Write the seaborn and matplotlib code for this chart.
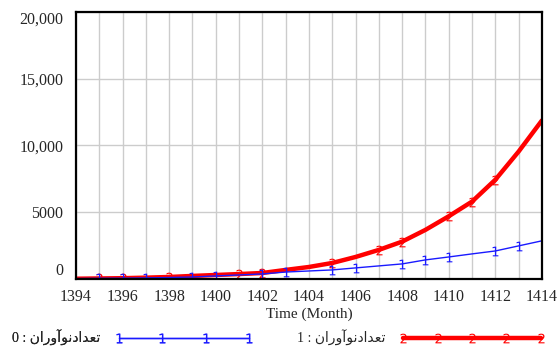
import numpy as np
import pandas as pd
import matplotlib
matplotlib.use('Agg')
import matplotlib.pyplot as plt
import seaborn as sns

# dados
meses = list(range(1394, 1415))
serie0 = [30, 50, 60, 80, 110, 150, 230, 300, 380, 520, 600, 680, 830, 980,
          1130, 1430, 1650, 1880, 2100, 2480, 2860]
serie1 = [20, 40, 60, 100, 150, 230, 300, 370, 450, 680, 900, 1200, 1650, 2180,
          2800, 3680, 4700, 5800, 7440, 9550, 11880]
# posições dos marcadores numéricos (índices)
marcas0 = [1, 2, 3, 5, 6, 8, 9, 11, 12, 14, 15, 16, 18, 19]
marcas1 = [1, 2, 4, 7, 8, 11, 13, 14, 16, 17, 18]

y_ticks = [0, 5000, 10000, 15000, 20000]
y_labels = ['0', '5000', '10,000', '15,000', '20,000']
x_ticks = list(range(1394, 1415, 2))

# nome da variável já em formas de apresentação, ordem visual
nome = '\uFEE5\uFE8D\uFEAD\uFEED\uFE81\uFEEE\uFEE7\uFEA9\uFE8D\uFEAA\uFECC\uFE97'
rotulo0 = '0 : ' + nome
rotulo1 = '1 : ' + nome

df = pd.DataFrame({'Mes': meses, 'S0': serie0, 'S1': serie1})

sns.set_style('whitegrid', {'grid.color': '#cccccc', 'axes.edgecolor': 'black'})
plt.rcParams['font.family'] = ['Liberation Serif', 'DejaVu Sans']

fig = plt.figure(figsize=(5.57, 3.47), dpi=100)
ax = fig.add_axes([0.1364, 0.196, 0.8366, 0.7694])

sns.lineplot(data=df, x='Mes', y='S1', ax=ax, color='#ff0000', linewidth=3.2,
             marker=r'$\mathrm{2}$', markevery=marcas1, markersize=7,
             markeredgewidth=0, markerfacecolor='#ff0000',
             label=rotulo1, legend=False)
sns.lineplot(data=df, x='Mes', y='S0', ax=ax, color='#1a1aff', linewidth=1.0,
             marker=r'$\mathrm{1}$', markevery=marcas0, markersize=7,
             markeredgewidth=0, markerfacecolor='#1a1aff',
             label=rotulo0, legend=False)

ax.set_xlim(1394, 1414)
ax.set_ylim(0, 20000)
ax.set_xticks(x_ticks)
ax.set_xticks(meses, minor=True)
ax.set_yticks(y_ticks)
ax.set_yticklabels(y_labels)
ax.grid(True, which='both', axis='x', color='#cccccc', linewidth=1)
ax.grid(True, which='major', axis='y', color='#cccccc', linewidth=1)
ax.tick_params(axis='both', which='both', length=0, labelsize=11.5)
ax.tick_params(axis='x', pad=7)
ax.tick_params(axis='y', pad=9)
for s in ax.spines.values():
    s.set_color('black')
    s.set_linewidth(1.6)

tl = ax.get_yticklabels()
tl[0].set_va('bottom')
tl[-1].set_va('top')

ax.set_xlabel('Time (Month)', fontsize=11, labelpad=2)
ax.set_ylabel('')

linhas = ax.get_lines()
leg0 = fig.legend([linhas[1]], [rotulo0], loc='center left',
                  bbox_to_anchor=(0.0, 0.025), frameon=False, markerfirst=False,
                  handlelength=10, numpoints=4, fontsize=10, handletextpad=1.0)
fig.legend([linhas[0]], [rotulo1], loc='center left',
           bbox_to_anchor=(0.51, 0.025), frameon=False, markerfirst=False,
           handlelength=10.5, numpoints=5, fontsize=10, handletextpad=1.0)
fig.add_artist(leg0)

fig.savefig('out.png', dpi=100)
